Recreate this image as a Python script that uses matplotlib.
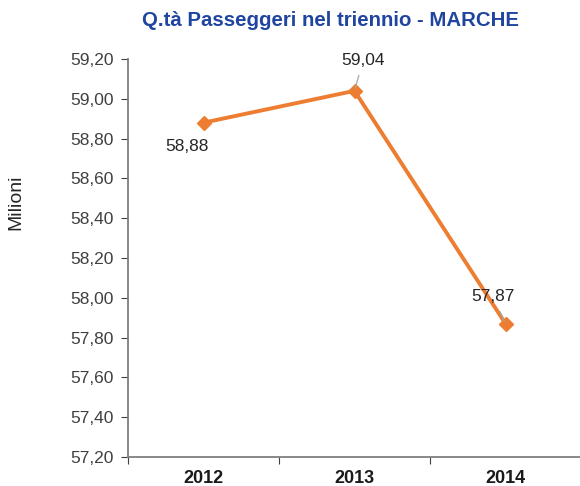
import matplotlib
matplotlib.use("Agg")
import matplotlib.pyplot as plt

years = ["2012", "2013", "2014"]
values = [58.88, 59.04, 57.87]
labels = ["58,88", "59,04", "57,87"]
yticks = [57.20, 57.40, 57.60, 57.80, 58.00, 58.20, 58.40, 58.60, 58.80, 59.00, 59.20]

plt.rcParams['font.family'] = ['Liberation Sans', 'DejaVu Sans']

W, H = 580, 486
fig = plt.figure(figsize=(W / 100, H / 100), dpi=100)
ax = fig.add_axes([128 / W, (H - 457) / H, (581 - 128) / W, (457 - 59) / H])

x = list(range(len(years)))
ax.plot(x, values, color="#ED7D31", linewidth=2.8, marker="D", markersize=7,
        markerfacecolor="#ED7D31", markeredgecolor="#ED7D31", zorder=3)

ax.set_xlim(-0.5, 2.5)
ax.set_ylim(57.2, 59.2)
ax.set_yticks(yticks)
ax.set_yticklabels([f"{v:.2f}".replace(".", ",") for v in yticks], fontsize=12.5, color="#404040")
ax.set_xticks([-0.5, 0.5, 1.5, 2.5])
ax.set_xticklabels([])
ax.set_xticks(x, minor=True)
ax.set_xticklabels(years, minor=True, fontsize=13, fontweight="bold", color="#1a1a1a")
ax.tick_params(axis="x", which="minor", length=0, pad=9)
ax.tick_params(axis="x", which="major", length=5, color="#404040", direction="out")
ax.tick_params(axis="y", length=5, color="#404040", direction="out", pad=5)

for s in ["top", "right"]:
    ax.spines[s].set_visible(False)
for s in ["left", "bottom"]:
    ax.spines[s].set_color("#7f7f7f")
    ax.spines[s].set_linewidth(1.3)

# data labels
ax.annotate(labels[0], (x[0], values[0]), xytext=(-12, -17), textcoords="offset points",
            ha="center", va="center", fontsize=12.5, color="#262626")
ax.annotate(labels[1], (x[1], values[1]), xytext=(6, 21.5), textcoords="offset points",
            ha="center", va="center", fontsize=12.5, color="#262626",
            arrowprops=dict(arrowstyle="-", color="#a6a6a6", lw=0.9, shrinkA=3, shrinkB=2))
ax.annotate(labels[2], (x[2], values[2]), xytext=(-9, 19.8), textcoords="offset points",
            ha="center", va="center", fontsize=12.5, color="#262626",
            arrowprops=dict(arrowstyle="-", color="#a6a6a6", lw=0.9, shrinkA=4, shrinkB=2))

fig.text(16 / W, 1 - 202 / H, "Milioni", rotation=90, ha="center", va="center",
         fontsize=14, color="#262626")
fig.text(330 / W, 1 - 21 / H, "Q.tà Passeggeri nel triennio - MARCHE", ha="center", va="center",
         fontsize=14.7, fontweight="bold", color="#1F45A0")

fig.savefig("out.png", dpi=100)
